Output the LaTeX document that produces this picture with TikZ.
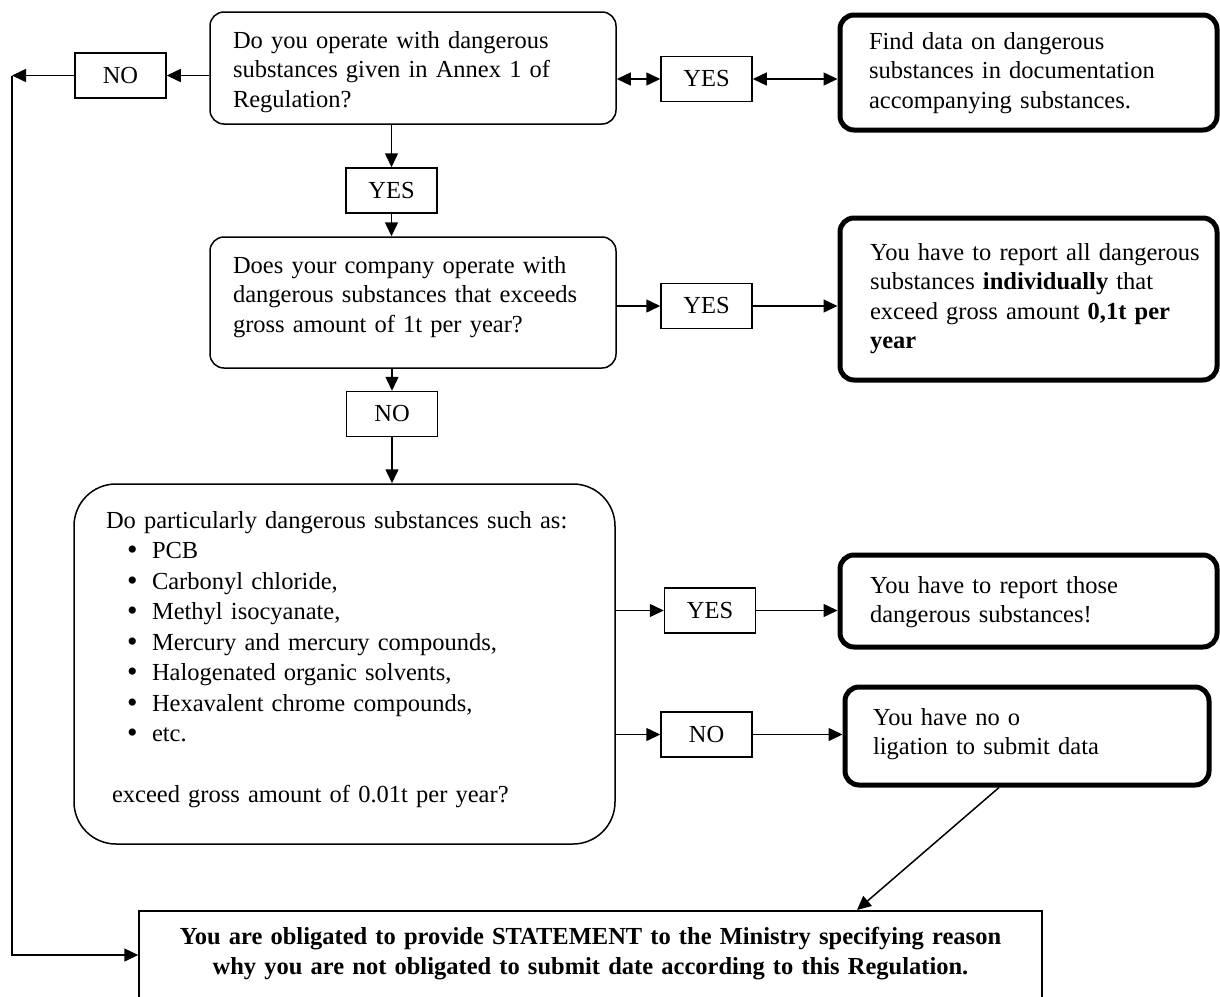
\documentclass[tikz,border=0pt]{standalone}
\usepackage{fontspec}
\setmainfont{Liberation Serif}
\usetikzlibrary{arrows.meta,calc}
\newcommand{\bulitem}{\hspace*{21pt}\raisebox{-1pt}{\fontsize{30}{30}\selectfont\textbullet}\hspace*{14.5pt}}
\begin{document}
\begin{tikzpicture}[x=1pt,y=-1pt,
  txt/.style={font=\fontsize{24.5}{29.5}\selectfont},
  qbox/.style={draw, line width=1.5pt, rounded corners=14pt, txt, align=left, inner xsep=0pt, inner ysep=0pt},
  abox/.style={draw, line width=5pt, rounded corners=14pt, txt, align=left, inner xsep=0pt, inner ysep=0pt},
  lbl/.style={draw, line width=1.5pt, txt, minimum width=91pt, minimum height=45pt, inner sep=0pt},
  arr/.style={line width=1.5pt, -{Triangle[length=14pt,width=13pt]}},
  darr/.style={line width=1.5pt, {Triangle[length=14pt,width=13pt]}-{Triangle[length=14pt,width=13pt]}}
]
\useasboundingbox (0,0) rectangle (1220,996);
\clip (0,0) rectangle (1220,996);

% question boxes
\node[qbox, text width=406pt, text height=36pt, text depth=76pt] (A) at (413,68)
  {\leftskip=23pt Do you operate with dangerous\\ substances given in Annex 1 of\\ Regulation?\par};
\node[qbox, text width=406pt, text height=36pt, text depth=95pt] (B) at (413,302.5)
  {\leftskip=23pt Does your company operate with\\ dangerous substances that exceeds\\ gross amount of 1t per year?\par};
\node[qbox, rounded corners=42pt, text width=541pt, text height=44pt, text depth=316pt,
      font=\fontsize{24.5}{30.5}\selectfont] (C) at (344.5,664)
  {\leftskip=32pt Do particularly dangerous substances such as:\\
   \bulitem PCB\\
   \bulitem Carbonyl chloride,\\
   \bulitem Methyl isocyanate,\\
   \bulitem Mercury and mercury compounds,\\
   \bulitem Halogenated organic solvents,\\
   \bulitem Hexavalent chrome compounds,\\
   \bulitem etc.\\[30.5pt]
   \hspace*{6pt}exceed gross amount of 0.01t per year?\par};

% answer boxes
\node[abox, text width=377pt, text height=34pt, text depth=81pt] (F) at (1028.5,72.5)
  {\leftskip=29pt Find data on dangerous\\ substances in documentation\\ accompanying substances.\par};
\node[abox, text width=377pt, text height=42pt, text depth=120pt] (G) at (1028.5,299)
  {\leftskip=30pt You have to report all dangerous\\ substances \textbf{individually} that\\ exceed gross amount \textbf{0,1t per}\\ \textbf{year}\par};
\node[abox, text width=377pt, text height=38pt, text depth=54pt] (H) at (1028.5,601)
  {\leftskip=30pt You have to report those\\ dangerous substances!\par};
\node[abox, text width=364pt, text height=38pt, text depth=60pt] (I) at (1027,736)
  {\leftskip=28pt You have no o\\ ligation to submit data\par};

% statement box
\node[draw, line width=1.5pt, anchor=north, text width=903pt, inner xsep=0pt, inner ysep=16pt,
      align=center, font=\fontsize{24.5}{30}\selectfont\bfseries] (J) at (590.5,910)
  {You are obligated to provide STATEMENT to the Ministry specifying reason\\
   why you are not obligated to submit date according to this Regulation.\\[40pt]~};

% label boxes
\node[lbl] (NO1) at (120.5,75.5) {NO};
\node[lbl] (YES1) at (706.5,79) {YES};
\node[lbl] (YES2) at (391.5,190.5) {YES};
\node[lbl] (NO2) at (392,414) {NO};
\node[lbl] (YES3) at (706.5,306) {YES};
\node[lbl] (YES4) at (710,610.5) {YES};
\node[lbl] (NO4) at (706.5,734.5) {NO};

\coordinate (lt) at (12,0);

% connectors
\draw[arr] (NO1.east -| A.west) -- (NO1.east);
\draw[arr] (NO1.west) -- (NO1.west -| lt);
\draw[arr] (NO1.west -| lt) |- ($(J.north west)+(0,45)$);
\draw[darr] (YES1.west -| A.east) -- (YES1.west);
\draw[darr] (YES1.east) -- (YES1.east -| F.west);
\draw[arr] (YES2.north |- A.south) -- (YES2.north);
\draw[arr] (YES2.south) -- (YES2.south |- B.north);
\draw[arr] (YES3.west -| B.east) -- (YES3.west);
\draw[arr] (YES3.east) -- (YES3.east -| G.west);
\draw[arr] (NO2.north |- B.south) -- (NO2.north);
\draw[arr] (NO2.south) -- (NO2.south |- C.north);
\draw[arr] (YES4.west -| C.east) -- (YES4.west);
\draw[arr] (YES4.east) -- (YES4.east -| H.west);
\draw[arr] (NO4.west -| C.east) -- (NO4.west);
\draw[arr] (NO4.east) -- (NO4.east -| I.west);
\draw[arr] ([xshift=-28pt]I.south) -- ([xshift=266.5pt]J.north);
\end{tikzpicture}
\end{document}
